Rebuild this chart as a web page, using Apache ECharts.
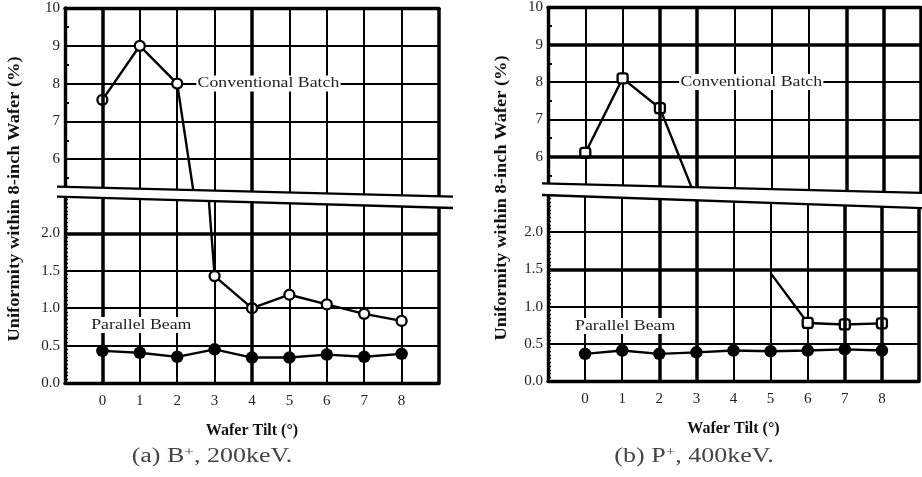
<!DOCTYPE html>
<html><head><meta charset="utf-8">
<script src="https://cdn.jsdelivr.net/npm/echarts@6/dist/echarts.min.js"></script>
<style>html,body{margin:0;padding:0;background:#fff}#c{width:922px;height:477px}</style>
</head><body><div id="c"></div>
<script>
// ---- data ----
const tilts = [0, 1, 2, 3, 4, 5, 6, 7, 8];
const xTicks = ['0', '1', '2', '3', '4', '5', '6', '7', '8'];
const upperTicks = [6, 7, 8, 9, 10];
const lowerTickVals = [0, 0.5, 1.0, 1.5, 2.0];
const lowerTicks = ['0.0', '0.5', '1.0', '1.5', '2.0'];
// (a) B+, 200keV
const convA = [7.57, 9.0, 8.0, 1.43, 1.0, 1.18, 1.05, 0.925, 0.83];
const paraA = [0.43, 0.405, 0.35, 0.45, 0.34, 0.34, 0.38, 0.35, 0.39];
// (b) P+, 400keV  (points 3 and 5 are where the drawn line segments end, no marker)
const convB = [6.1, 8.1, 7.3, 4.8, null, 1.45, 0.78, 0.76, 0.775];
const paraB = [0.365, 0.41, 0.365, 0.385, 0.41, 0.40, 0.41, 0.425, 0.41];
const convBLineOnly = [3, 5];
const seriesNames = ['Conventional Batch', 'Parallel Beam'];
const yTitle = 'Uniformity within 8-inch Wafer (%)';
const xTitle = 'Wafer Tilt (°)';
const captions = ['(a) B{sup|+}, 200keV.', '(b) P{sup|+}, 400keV.'];

// ---- layout / style ----
const FONT = 'Liberation Serif';
const panels = [
  { left: 65, width: 374, upTop: 8, upH: 189, lowTop: 196, lowH: 187,
    conv: convA, para: paraA, hide: [], sym: 'circle',
    thickX: [0, 4], thickYUp: [], thickYLow: [2.0],
    convLbl: [4.44, 8], paraLbl: [1.04, 0.775],
    capX: 212, titleX: 15, titleY: 199,
    brkU: [[57, 186.7], [453, 196.7]], brkL: [[57, 196.7], [453, 208]] },
  { left: 548, width: 373, upTop: 7, upH: 187, lowTop: 195, lowH: 186,
    conv: convB, para: paraB, hide: convBLineOnly, sym: 'roundRect',
    thickX: [2, 3, 7, 8], thickYUp: [9, 6], thickYLow: [1.5],
    convLbl: [4.45, 8], paraLbl: [1.08, 0.74],
    capX: 694, titleX: 502, titleY: 198,
    brkU: [[542, 183.3], [925, 193]], brkL: [[542, 195], [925, 208.2]] }
];

const grid = [], xAxis = [], yAxis = [], series = [];
const gridLine = { color: '#000', width: 2 };
const border = { color: '#000', width: 3.4 };

panels.forEach((p, k) => {
  [true, false].forEach(upper => {
    const gi = grid.length;
    grid.push({ left: p.left, width: p.width, top: upper ? p.upTop : p.lowTop, height: upper ? p.upH : p.lowH });
    xAxis.push({
      gridIndex: gi, type: 'value', min: -1, max: 9, interval: 1,
      position: upper ? 'top' : 'bottom',
      axisLine: { show: true, onZero: false, lineStyle: border },
      axisTick: { show: !upper, inside: true, length: 3, lineStyle: { color: '#000', width: 2 } },
      axisLabel: { show: !upper, margin: 11, fontFamily: FONT, fontSize: 15, color: '#222',
        formatter: v => { const i = tilts.indexOf(v); return i >= 0 ? xTicks[i] : ''; } },
      splitLine: { show: true, lineStyle: gridLine },
      name: upper ? '' : xTitle, nameLocation: 'middle', nameGap: 40,
      nameTextStyle: { fontFamily: FONT, fontWeight: 'bold', fontSize: 16, color: '#111' }
    });
    yAxis.push(upper ? {
      gridIndex: gi, type: 'value', min: 5, max: 10, interval: 1,
      axisLine: { show: true, onZero: false, lineStyle: border },
      axisTick: { show: true, inside: true, length: 4, lineStyle: { color: '#000', width: 2 } },
      minorTick: { show: true, splitNumber: 2, length: 4, lineStyle: { color: '#000', width: 2 } },
      axisLabel: { margin: 5, fontFamily: FONT, fontSize: 15, color: '#222',
        formatter: v => upperTicks.includes(v) ? String(v) : '' },
      splitLine: { show: true, lineStyle: gridLine }
    } : {
      gridIndex: gi, type: 'value', min: 0, max: 2.5, interval: 0.5,
      axisLine: { show: true, onZero: false, lineStyle: border },
      axisTick: { show: true, inside: true, length: 3, lineStyle: { color: '#000', width: 1.5 } },
      minorTick: { show: true, splitNumber: 10, length: 3, lineStyle: { color: '#000', width: 1.3 } },
      axisLabel: { margin: 5, fontFamily: FONT, fontSize: 15, color: '#222',
        formatter: v => { const i = lowerTickVals.findIndex(t => Math.abs(t - v) < 1e-6); return i >= 0 ? lowerTicks[i] : ''; } },
      splitLine: { show: true, lineStyle: gridLine }
    });
    const thick = [...p.thickX.map(x => ({ xAxis: x })), { xAxis: 9 },
      ...(upper ? p.thickYUp : p.thickYLow).map(y => ({ yAxis: y }))];
    series.push({
      name: seriesNames[0], type: 'line', xAxisIndex: gi, yAxisIndex: gi, clip: true,
      data: tilts.map((t, i) => p.hide.includes(i) ? { value: [t, p.conv[i]], symbol: 'none' } : [t, p.conv[i]]),
      symbol: p.sym, symbolSize: 10, showAllSymbol: true,
      itemStyle: { color: '#fff', borderColor: '#000', borderWidth: 2.3 },
      lineStyle: { color: '#000', width: 2.4 }, z: 4,
      markLine: { silent: true, symbol: ['none', 'none'], label: { show: false }, animation: false,
        lineStyle: { type: 'solid', color: '#000', width: 3.5 }, data: thick }
    });
    if (!upper) {
      series.push({
        name: seriesNames[1], type: 'line', xAxisIndex: gi, yAxisIndex: gi, clip: true,
        data: tilts.map((t, i) => [t, p.para[i]]),
        symbol: 'circle', symbolSize: 12.5, showAllSymbol: true,
        itemStyle: { color: '#000' }, lineStyle: { color: '#000', width: 2.4 }, z: 5
      });
    }
  });
});

const chart = echarts.init(document.getElementById('c'), null, { renderer: 'canvas' });
chart.setOption({ animation: false, backgroundColor: '#fff', grid, xAxis, yAxis, series });

const graphic = [];
panels.forEach((p, k) => {
  const gU = 2 * k, gL = 2 * k + 1;
  // axis break band
  graphic.push({ type: 'polygon', z: 50, silent: true,
    shape: { points: [p.brkU[0], p.brkU[1], p.brkL[1], p.brkL[0]] },
    style: { fill: '#fff', stroke: null } });
  [p.brkU, p.brkL].forEach(seg => graphic.push({ type: 'line', z: 51, silent: true,
    shape: { x1: seg[0][0], y1: seg[0][1], x2: seg[1][0], y2: seg[1][1] },
    style: { stroke: '#000', lineWidth: 2.3 } }));
  // series labels
  const c = chart.convertToPixel({ gridIndex: gU }, p.convLbl);
  const q = chart.convertToPixel({ gridIndex: gL }, p.paraLbl);
  [[seriesNames[0], c], [seriesNames[1], q]].forEach(([txt, pt]) => graphic.push({
    type: 'text', z: 60, silent: true, x: pt[0], y: pt[1], scaleX: 1.27,
    style: { text: txt, fontFamily: FONT, fontSize: 14, fill: '#222',
      align: 'center', verticalAlign: 'middle', textAlign: 'center', textVerticalAlign: 'middle',
      backgroundColor: '#fff', padding: [1, 1] } }));
  // y-axis title
  graphic.push({ type: 'text', z: 60, silent: true, x: p.titleX, y: p.titleY, rotation: Math.PI / 2, scaleX: 1.15,
    style: { text: yTitle, fontFamily: FONT, fontWeight: 'bold', fontSize: 16, fill: '#111',
      align: 'center', verticalAlign: 'middle', textAlign: 'center', textVerticalAlign: 'middle' } });
  // caption
  graphic.push({ type: 'text', z: 60, silent: true, x: p.capX, y: 457, scaleX: 1.3,
    style: { text: captions[k], fontFamily: FONT, fontSize: 20, fill: '#444', lineHeight: 22,
      align: 'center', verticalAlign: 'middle', textAlign: 'center', textVerticalAlign: 'middle',
      rich: { sup: { fontFamily: FONT, fontSize: 13, fill: '#444', verticalAlign: 'top', lineHeight: 22 } } } });
});
chart.setOption({ graphic });
</script>
</body></html>
